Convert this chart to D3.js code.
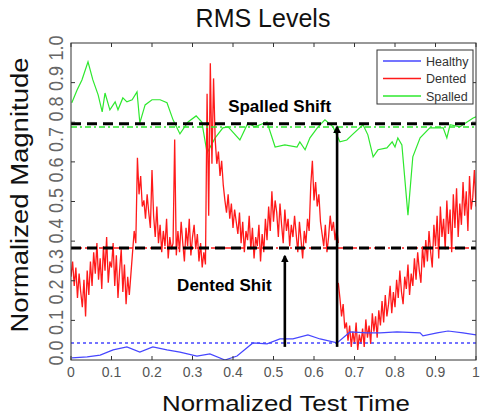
<!DOCTYPE html>
<html>
<head>
<meta charset="utf-8">
<script src="https://cdn.jsdelivr.net/npm/d3@7"></script>
<style>
  body { margin: 0; background: #fff; }
  svg { display: block; font-family: Arial, "Liberation Sans", sans-serif; }
</style>
</head>
<body>
<script>
// tick labels
var xTicks = [0, 0.1, 0.2, 0.3, 0.4, 0.5, 0.6, 0.7, 0.8, 0.9, 1];
var xTickLabels = ["0", "0.1", "0.2", "0.3", "0.4", "0.5", "0.6", "0.7", "0.8", "0.9", "1"];
var yTicks = [0, 0.1, 0.2, 0.3, 0.4, 0.5, 0.6, 0.7, 0.8, 0.9, 1.0];
var yTickLabels = ["0.0", "0.1", "0.2", "0.3", "0.4", "0.5", "0.6", "0.7", "0.8", "0.9", "1.0"];
var frameTicks = [1, 2, 3, 4, 5, 6, 7];

// series names
var seriesNames = ["Healthy", "Dented", "Spalled"];
var seriesColors = ["#4646ff", "#ff1a1a", "#2ee82e"];

// healthy (blue)
var healthyX = [0.002, 0.04, 0.072, 0.104, 0.138, 0.17, 0.202, 0.237, 0.269, 0.311, 0.343, 0.38, 0.41, 0.449, 0.484,
  0.516, 0.548, 0.585, 0.615, 0.657, 0.689, 0.731, 0.763, 0.805, 0.862, 0.869, 0.904, 0.931, 0.968, 1.0];
var healthyY = [-0.016, -0.013, -0.007, 0.01, 0.02, 0.003, 0.02, 0.01, 0.003, -0.01, -0.003, -0.023, -0.01, 0.033, 0.03,
  0.046, 0.046, 0.059, 0.046, 0.033, 0.069, 0.066, 0.066, 0.069, 0.066, 0.056, 0.066, 0.072, 0.066, 0.059];

// spalled (green)
var spalledX = [0.002, 0.015, 0.027, 0.042, 0.054, 0.067, 0.077, 0.084, 0.096, 0.109, 0.116, 0.128, 0.138, 0.151, 0.163,
  0.17, 0.183, 0.2, 0.22, 0.237, 0.252, 0.269, 0.289, 0.309, 0.323, 0.336, 0.356, 0.375, 0.388, 0.417, 0.437, 0.454,
  0.484, 0.504, 0.528, 0.558, 0.565, 0.578, 0.59, 0.61, 0.627, 0.647, 0.664, 0.681, 0.694, 0.721, 0.733, 0.746, 0.758,
  0.78, 0.793, 0.8, 0.807, 0.817, 0.832, 0.844, 0.862, 0.886, 0.919, 0.928, 0.936, 0.96, 0.978, 0.993, 1.0];
var spalledY = [0.82, 0.862, 0.895, 0.954, 0.895, 0.846, 0.79, 0.852, 0.797, 0.823, 0.797, 0.836, 0.823, 0.83, 0.856,
  0.754, 0.813, 0.83, 0.83, 0.82, 0.764, 0.718, 0.757, 0.777, 0.757, 0.656, 0.705, 0.738, 0.741, 0.698, 0.754, 0.741,
  0.757, 0.675, 0.682, 0.675, 0.692, 0.666, 0.705, 0.741, 0.764, 0.741, 0.692, 0.698, 0.715, 0.748, 0.715, 0.643, 0.666,
  0.672, 0.692, 0.675, 0.705, 0.682, 0.452, 0.643, 0.705, 0.738, 0.738, 0.705, 0.748, 0.741, 0.757, 0.77, 0.774];

// dented (red), first run 0 .. 0.66
var dentedRangeA = [0, 0.66];
var dentedA = [
  0.25, 0.30, 0.22, 0.28, 0.18, 0.26, 0.20, 0.15, 0.24, 0.12, 0.27, 0.19, 0.30,
  0.22, 0.33, 0.26, 0.36, 0.24, 0.31, 0.21, 0.35, 0.27, 0.38, 0.23, 0.30,
  0.28, 0.36, 0.22, 0.32, 0.18, 0.27, 0.34, 0.20, 0.29, 0.16, 0.25, 0.19,
  0.26, 0.33, 0.40, 0.36,
  0.64, 0.52, 0.58, 0.48,
  0.50, 0.44, 0.52, 0.46, 0.41, 0.60,
  0.45, 0.38, 0.48, 0.36, 0.42, 0.33, 0.40, 0.35, 0.44, 0.31, 0.38, 0.34,
  0.36, 0.70, 0.32,
  0.40, 0.33, 0.43, 0.36, 0.30, 0.41, 0.35, 0.44, 0.32, 0.38, 0.42, 0.34, 0.39, 0.30, 0.36, 0.28, 0.33, 0.29,
  0.85, 0.45, 0.95, 0.62, 0.90,
  0.70, 0.62, 0.66, 0.58, 0.63, 0.55,
  0.50, 0.46, 0.52, 0.44, 0.49, 0.41, 0.47, 0.43,
  0.39, 0.46, 0.36, 0.43, 0.33, 0.40, 0.37, 0.45, 0.34, 0.41, 0.31, 0.38,
  0.35, 0.42, 0.30, 0.39, 0.33, 0.44, 0.37, 0.48, 0.40, 0.53, 0.43, 0.50,
  0.46, 0.38, 0.49, 0.42, 0.36, 0.47, 0.40, 0.44, 0.35, 0.42, 0.38, 0.45,
  0.39, 0.33, 0.43, 0.37, 0.31, 0.40, 0.36, 0.44, 0.40, 0.55, 0.63, 0.50,
  0.56, 0.48, 0.52, 0.43, 0.39, 0.35, 0.42, 0.33, 0.38, 0.45, 0.40, 0.43, 0.37, 0.41, 0.36
];
// dented (red), second run 0.66 .. 1
var dentedRangeB = [0.66, 1.0];
var dentedB = [
  0.23, 0.18, 0.12, 0.16, 0.08,
  0.10, 0.04, 0.09, 0.02, 0.07, 0.03, 0.10, 0.01, 0.06, 0.03,
  0.08, 0.02, 0.11, 0.05, 0.09, 0.03, 0.13, 0.07, 0.12, 0.05,
  0.14, 0.09, 0.17, 0.10, 0.19, 0.12, 0.16, 0.22, 0.13, 0.20,
  0.15, 0.24, 0.18, 0.27, 0.20, 0.16, 0.25, 0.21, 0.29, 0.19,
  0.26, 0.22, 0.31, 0.24, 0.33, 0.27, 0.23, 0.35, 0.28, 0.37,
  0.30, 0.40, 0.33, 0.28, 0.42, 0.35, 0.45, 0.31, 0.48, 0.38,
  0.44, 0.34, 0.50, 0.39, 0.47, 0.33, 0.52, 0.41, 0.54, 0.38,
  0.49, 0.42, 0.56, 0.45, 0.53, 0.40, 0.58, 0.47, 0.51, 0.60, 0.48
];

// mean levels
var healthyLevel = 0.033;
var dentedLevel = 0.344;
var spalledLevel = 0.748;

(function(){
  var width = 480, height = 417;
  var pl = 71, pr = 476, pt = 43, pb = 360;

  var svg = d3.select("body").append("svg").attr("width", width).attr("height", height);

  var x = d3.scaleLinear().domain([0, 1]).range([pl, pr]);
  var y = d3.scaleLinear().domain([-0.023, 1.016]).range([pb, pt]);
  var yFrame = d3.scaleLinear().domain([0, 8]).range([pb, pt]);

  // title
  svg.append("text").attr("x", 263).attr("y", 27).attr("text-anchor", "middle")
    .style("font-size", "25px").attr("fill", "#111").text("RMS Levels");

  var plot = svg.append("g");
  svg.append("clipPath").attr("id", "clip").append("rect")
    .attr("x", pl).attr("y", pt - 30).attr("width", pr - pl).attr("height", pb - pt + 30);
  var lines = plot.append("g").attr("clip-path", "url(#clip)");

  var line = d3.line().x(function(d){ return x(d[0]); }).y(function(d){ return y(d[1]); });

  function run(values, range){
    var idx = d3.scaleLinear().domain([0, values.length - 1]).range(range);
    return values.map(function(v, i){ return [idx(i), v]; });
  }

  lines.append("path").datum(d3.zip(spalledX, spalledY)).attr("d", line)
    .attr("fill", "none").attr("stroke", seriesColors[2]).attr("stroke-width", 1.2);
  lines.append("path").datum(run(dentedA, dentedRangeA)).attr("d", line)
    .attr("fill", "none").attr("stroke", seriesColors[1]).attr("stroke-width", 1.3);
  lines.append("path").datum(run(dentedB, dentedRangeB)).attr("d", line)
    .attr("fill", "none").attr("stroke", seriesColors[1]).attr("stroke-width", 1.3);
  lines.append("path").datum(d3.zip(healthyX, healthyY)).attr("d", line)
    .attr("fill", "none").attr("stroke", seriesColors[0]).attr("stroke-width", 1.2);

  // coloured mean lines and black dashed shift lines
  function hline(level, color, dash, w){
    lines.append("line").attr("x1", x(0)).attr("x2", x(1)).attr("y1", y(level)).attr("y2", y(level))
      .attr("stroke", color).attr("stroke-width", w).attr("stroke-dasharray", dash);
  }
  hline(spalledLevel - 0.007, seriesColors[2], "6,3,2,3", 1.5);
  hline(dentedLevel, seriesColors[1], "6,3,2,3", 1.5);
  hline(healthyLevel, seriesColors[0], "3,3", 1.5);
  hline(spalledLevel + 0.003, "#000", "10,6", 3);
  hline(dentedLevel, "#000", "10,6", 3);

  // arrows
  svg.append("defs").append("marker").attr("id", "head").attr("viewBox", "0 0 10 10")
    .attr("refX", 8).attr("refY", 5).attr("markerWidth", 3).attr("markerHeight", 3)
    .attr("orient", "auto").attr("markerUnits", "strokeWidth")
    .append("path").attr("d", "M0,0L10,5L0,10Z").attr("fill", "#000");
  function arrow(xv, y0, y1){
    plot.append("line").attr("x1", x(xv)).attr("x2", x(xv)).attr("y1", y(y0)).attr("y2", y(y1) + 2)
      .attr("stroke", "#000").attr("stroke-width", 2.6).attr("marker-end", "url(#head)");
  }
  arrow(0.528, 0.02, dentedLevel - 0.02);
  arrow(0.657, 0.02, spalledLevel);

  // annotations
  svg.append("text").attr("x", x(0.388)).attr("y", y(0.79)).style("font-size", "17px")
    .style("font-weight", "bold").attr("fill", "#000").text("Spalled Shift");
  svg.append("text").attr("x", x(0.262)).attr("y", y(0.203)).style("font-size", "17px")
    .style("font-weight", "bold").attr("fill", "#000").text("Dented Shit");

  // frame and ticks
  var frame = svg.append("g").attr("stroke", "#333").attr("stroke-width", 1);
  frame.append("rect").attr("x", pl).attr("y", pt).attr("width", pr - pl).attr("height", pb - pt)
    .attr("fill", "none");
  xTicks.forEach(function(t){
    frame.append("line").attr("x1", x(t)).attr("x2", x(t)).attr("y1", pt).attr("y2", pt + 4);
    frame.append("line").attr("x1", x(t)).attr("x2", x(t)).attr("y1", pb).attr("y2", pb - 4);
  });
  frameTicks.forEach(function(t){
    frame.append("line").attr("x1", pl).attr("x2", pl + 4).attr("y1", yFrame(t)).attr("y2", yFrame(t));
    frame.append("line").attr("x1", pr).attr("x2", pr - 4).attr("y1", yFrame(t)).attr("y2", yFrame(t));
  });

  // x tick labels
  svg.append("g").selectAll("text").data(xTicks).enter().append("text")
    .attr("x", function(d){ return x(d); }).attr("y", 377).attr("text-anchor", "middle")
    .style("font-size", "14px").attr("fill", "#555")
    .text(function(d, i){ return xTickLabels[i]; });

  // y tick labels, rotated
  svg.append("g").selectAll("text").data(yTicks).enter().append("text")
    .attr("transform", function(d){ return "translate(63," + y(d) + ") rotate(-90)"; })
    .attr("text-anchor", "middle").style("font-size", "21px").attr("fill", "#666")
    .attr("textLength", 25).attr("lengthAdjust", "spacingAndGlyphs")
    .text(function(d, i){ return yTickLabels[i]; });

  // axis titles
  svg.append("text").attr("x", 286).attr("y", 411).attr("text-anchor", "middle")
    .style("font-size", "22px").attr("fill", "#111")
    .attr("textLength", 248).attr("lengthAdjust", "spacingAndGlyphs").text("Normalized Test Time");
  svg.append("text").attr("transform", "translate(28,195) rotate(-90)").attr("text-anchor", "middle")
    .style("font-size", "23px").attr("fill", "#111")
    .attr("textLength", 275).attr("lengthAdjust", "spacingAndGlyphs").text("Normalized Magnitude");

  // legend
  var legend = svg.append("g");
  legend.append("rect").attr("x", 377).attr("y", 50).attr("width", 96).attr("height", 54)
    .attr("fill", "#fff").attr("stroke", "#333").attr("stroke-width", 1);
  seriesNames.forEach(function(name, i){
    var ly = 61 + i * 17.5;
    legend.append("line").attr("x1", 383).attr("x2", 421).attr("y1", ly).attr("y2", ly)
      .attr("stroke", seriesColors[i]).attr("stroke-width", 1.5);
    legend.append("text").attr("x", 426).attr("y", ly + 4.5).style("font-size", "12.5px")
      .attr("fill", "#333").text(name);
  });
})();
</script>
</body>
</html>
